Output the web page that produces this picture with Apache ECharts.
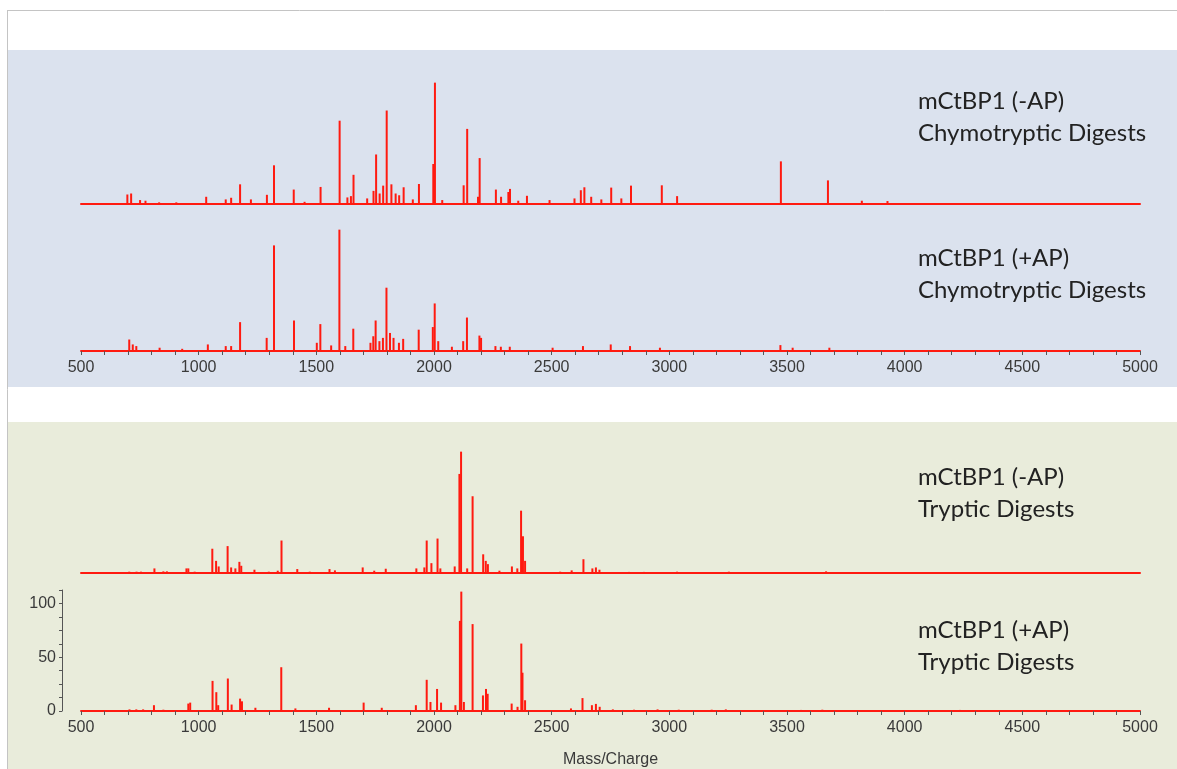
<!DOCTYPE html>
<html>
<head>
<meta charset="utf-8">
<title>mCtBP1 MALDI spectra</title>
<script src="https://cdn.jsdelivr.net/npm/echarts@6/dist/echarts.min.js"></script>
<style>
  html, body { margin: 0; padding: 0; background: #ffffff; }
  #chart { width: 1177px; height: 769px; }
</style>
</head>
<body>
<div id="chart"></div>
<script>
// Peak lists (m/z, relative intensity) for the four digests
const chymoMinusMz = [697, 713, 751, 774, 832, 905, 1032, 1115, 1138, 1176, 1222, 1290, 1320, 1404, 1450, 1518, 1599, 1632, 1647, 1658, 1716, 1743, 1754, 1769, 1784, 1799, 1819, 1837, 1852, 1871, 1910, 1936, 1997, 2004, 2035, 2126, 2141, 2187, 2194, 2263, 2285, 2316, 2323, 2358, 2395, 2491, 2597, 2624, 2639, 2668, 2711, 2753, 2796, 2837, 2968, 3033, 3474, 3674, 3818, 3927];
const chymoMinusInt = [8.7, 9.6, 3.6, 3, 1.5, 1.5, 6.6, 4.2, 5.7, 18, 4.2, 8.4, 35.4, 13.2, 2, 15.6, 76.2, 6, 7.2, 26.7, 5.1, 12, 45.3, 9.6, 16.8, 85.5, 18, 9.6, 8, 15.3, 4.2, 18.3, 36.6, 111, 3.6, 17.1, 68.7, 6.6, 42, 13.2, 6.6, 11, 13.8, 3, 7.5, 3.6, 5.1, 12.6, 15.3, 6.6, 4.2, 15, 5.1, 16.8, 17.1, 7.2, 39, 21.6, 3, 2.7];

const chymoPlusMz = [705, 720, 735, 834, 930, 1039, 1115, 1138, 1176, 1289, 1320, 1405, 1502, 1517, 1563, 1598, 1623, 1657, 1730, 1742, 1752, 1768, 1783, 1798, 1813, 1828, 1851, 1869, 1935, 1995, 2003, 2018, 2076, 2124, 2140, 2193, 2200, 2261, 2284, 2322, 2504, 2633, 2751, 2833, 2960, 3472, 3524, 3680];
const chymoPlusInt = [10.5, 6, 4.5, 3, 2, 6, 4.5, 4.5, 26.4, 12, 96.6, 27.9, 7.5, 24.6, 5.1, 111, 4.5, 20.4, 7.5, 13.5, 27.9, 9, 12, 57.9, 16.5, 12, 7.5, 11.1, 19.5, 21.9, 43.5, 9, 3.9, 9, 30.6, 14.1, 12, 4.5, 3.9, 3.9, 3, 4.5, 6, 4.5, 3, 5.4, 3, 3];

const trypMinusMz = [705, 736, 755, 812, 850, 865, 948, 956, 983, 1058, 1074, 1085, 1123, 1138, 1156, 1173, 1181, 1237, 1298, 1336, 1352, 1419, 1472, 1556, 1579, 1697, 1746, 1795, 1925, 1959, 1969, 1989, 2015, 2027, 2088, 2108, 2115, 2141, 2164, 2209, 2220, 2229, 2278, 2331, 2354, 2370, 2378, 2387, 2536, 2585, 2635, 2673, 2688, 2703, 2735, 2829, 2892, 3033, 3253, 3666];
const trypMinusInt = [1.2, 1.2, 1.2, 4.2, 1.5, 1.5, 4.2, 4.2, 1.2, 22.2, 11.1, 6, 24.6, 5.1, 4.2, 10.2, 6.6, 3, 1.2, 2.1, 29.7, 3.6, 1.2, 3.6, 2.4, 5.1, 2.1, 3.9, 4.2, 5.1, 29.7, 9, 31.5, 4.2, 6, 90.6, 111, 4.2, 70.2, 17.1, 11.1, 8.1, 2.1, 6, 4.2, 57, 33.6, 11.1, 1.2, 2.4, 12.6, 4.2, 5.1, 3, 0.8, 1, 1, 1.2, 1.2, 1.5];

const trypPlusMz = [706, 735, 764, 810, 850, 956, 964, 1059, 1075, 1083, 1124, 1140, 1176, 1184, 1241, 1351, 1411, 1554, 1701, 1778, 1923, 1969, 1985, 2013, 2030, 2091, 2110, 2116, 2127, 2164, 2208, 2221, 2228, 2330, 2355, 2371, 2376, 2387, 2582, 2631, 2671, 2688, 2704, 2760, 2850, 2950, 3040, 3180, 3240, 3560, 3650, 4235];
const trypPlusInt = [1.5, 1.5, 1.5, 5.4, 1.2, 6.9, 7.8, 28, 17.5, 5.4, 30.2, 6, 11.5, 9, 3, 40.7, 2.4, 3, 7.8, 3, 5.4, 29, 8.4, 20.5, 7.8, 5.4, 83.8, 111, 8.4, 80.8, 14.5, 20.5, 16, 6.9, 3.9, 62.7, 35.6, 10, 2.4, 12, 5.4, 6.6, 3.9, 1.5, 1.2, 1.5, 1.2, 1.2, 1.5, 1, 1.2, 1];

// Axis settings
const mzMin = 500, mzMax = 5000, mzStep = 500;
const intMax = 112.5, intStep = 12.5;
const intLabels = [0, 50, 100];
const axisTitle = 'Mass/Charge';

// Panel captions: [line 1, line 2]
const captions = [
  ['mCtBP1 (-AP)', 'Chymotryptic Digests'],
  ['mCtBP1 (+AP)', 'Chymotryptic Digests'],
  ['mCtBP1 (-AP)', 'Tryptic Digests'],
  ['mCtBP1 (+AP)', 'Tryptic Digests']
];

const spectra = [
  [chymoMinusMz, chymoMinusInt],
  [chymoPlusMz, chymoPlusInt],
  [trypMinusMz, trypMinusInt],
  [trypPlusMz, trypPlusInt]
];

// Layout of the four stacked plots
const gridTops = [81, 228, 450, 590];
const gridH = 123;
const gridLeft = 81, gridW = 1059;
const captionY = [101, 258, 477, 630];
const showScale = [false, true, false, true];

const RED = '#ff1a10';
const LABEL_FONT = 'Liberation Sans, Arial, sans-serif';
const CAPTION_FONT = 'Lato, "Open Sans", sans-serif';

const grids = gridTops.map(t => ({ left: gridLeft, top: t, width: gridW, height: gridH }));

const xAxes = gridTops.map((t, i) => ({
  type: 'value', gridIndex: i, min: mzMin, max: mzMax, interval: mzStep,
  splitLine: { show: false },
  axisLine: { show: true, onZero: false, lineStyle: { color: RED, width: 2 } },
  axisTick: { show: showScale[i], length: 4, inside: false, lineStyle: { color: '#555', width: 1 } },
  minorTick: { show: showScale[i], splitNumber: 5, length: 4, lineStyle: { color: '#555', width: 1 } },
  axisLabel: {
    show: showScale[i], margin: 9, color: '#3a3a3a', fontSize: 16, fontFamily: LABEL_FONT,
    formatter: v => String(v)
  },
  name: i === 3 ? axisTitle : '',
  nameLocation: 'middle', nameGap: 41,
  nameTextStyle: { color: '#3a3a3a', fontSize: 16, fontFamily: LABEL_FONT }
}));

const yAxes = gridTops.map((t, i) => {
  const visible = i === 3;
  return {
    type: 'value', gridIndex: i, min: 0, max: intMax, interval: intStep,
    show: visible,
    offset: 19,
    splitLine: { show: false },
    axisLine: { show: visible, lineStyle: { color: '#555', width: 1 } },
    axisTick: { show: visible, length: 3, lineStyle: { color: '#555', width: 1 } },
    axisLabel: {
      show: visible, margin: 6, color: '#3a3a3a', fontSize: 16, fontFamily: LABEL_FONT,
      formatter: v => (intLabels.indexOf(v) >= 0 ? String(v) : '')
    }
  };
});

const series = spectra.map(([mz, inten], i) => ({
  type: 'bar', xAxisIndex: i, yAxisIndex: i,
  barWidth: 2, silent: true, animation: false,
  itemStyle: { color: RED },
  data: mz.map((m, k) => [m, inten[k]]),
  z: 3
}));

// Panel backgrounds, page frame and captions
const graphics = [
  { type: 'rect', z: -10, shape: { x: 8, y: 50, width: 1169, height: 337 }, style: { fill: '#dbe2ee' } },
  { type: 'rect', z: -10, shape: { x: 8, y: 422, width: 1169, height: 347 }, style: { fill: '#e9ecdb' } },
  { type: 'line', z: -9, shape: { x1: 7, y1: 10.5, x2: 1177, y2: 10.5 }, style: { stroke: '#c4c4c4', lineWidth: 1 } },
  { type: 'line', z: -9, shape: { x1: 7.5, y1: 10, x2: 7.5, y2: 769 }, style: { stroke: '#c4c4c4', lineWidth: 1 } }
];
captions.forEach((lines, i) => {
  lines.forEach((txt, j) => {
    graphics.push({
      type: 'text', z: 5,
      style: {
        text: txt, x: 918, y: captionY[i] + j * 32,
        fill: '#222', font: '24px ' + CAPTION_FONT, verticalAlign: 'middle', align: 'left'
      }
    });
  });
});

const chart = echarts.init(document.getElementById('chart'), null, { renderer: 'canvas' });
chart.setOption({
  animation: false,
  backgroundColor: '#ffffff',
  grid: grids,
  xAxis: xAxes,
  yAxis: yAxes,
  series: series,
  graphic: graphics
});
</script>
</body>
</html>
